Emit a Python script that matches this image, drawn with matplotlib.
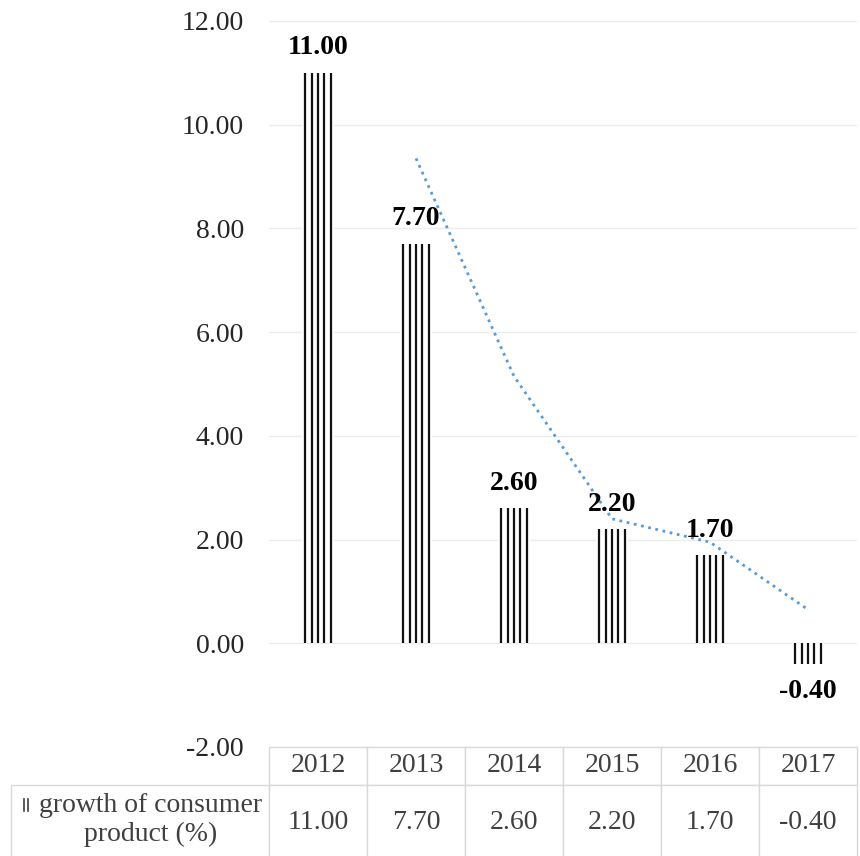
import numpy as np
import matplotlib
matplotlib.use('Agg')
import matplotlib.pyplot as plt
from matplotlib.table import Table

plt.rcParams['font.family'] = ['Liberation Serif', 'DejaVu Serif']

years = ['2012', '2013', '2014', '2015', '2016', '2017']
growth = [11.00, 7.70, 2.60, 2.20, 1.70, -0.40]
# 2-period moving average trend line (starts at 2013)
trend_years = ['2013', '2014', '2015', '2016', '2017']
trend_vals = [9.35, 5.15, 2.40, 1.95, 0.65]
row_label = 'growth of consumer\nproduct (%)'

W, H = 860, 856
fig = plt.figure(figsize=(W / 100, H / 100), dpi=100)
left, right, top, bottom = 269, 857, 21, 747
pw, ph = right - left, bottom - top
ax = fig.add_axes([left / W, 1 - bottom / H, pw / W, ph / H])

x = np.arange(len(years))
ax.set_xlim(-0.5, len(years) - 0.5)
ax.set_ylim(-2, 12)
ax.set_yticks(np.arange(-2, 13, 2))
ax.set_yticklabels([f'{v:.2f}' for v in np.arange(-2, 13, 2)], fontsize=20, color='#262626')
ax.tick_params(axis='y', length=0, pad=18)
ax.set_xticks([])
for s in ax.spines.values():
    s.set_visible(False)
ax.yaxis.grid(True, color='#ececec', linewidth=1)
ax.set_axisbelow(True)

# bars: white body with five vertical stripes
ax.bar(x, growth, width=0.32, color='white', zorder=2)
for off in np.linspace(-0.13, 0.13, 5):
    ax.vlines(x + off, 0, growth, color='#111111', linewidth=1.6, zorder=3)

# trend line
tx = [years.index(y) for y in trend_years]
ax.plot(tx, trend_vals, color='#5b9bd5', linestyle=':', linewidth=2.0, zorder=4)

# data labels
for xi, v in zip(x, growth):
    dy = 18 if v >= 0 else -20
    ax.annotate(f'{v:.2f}', (xi, v), xytext=(0, dy), textcoords='offset points',
                ha='center', va='center', fontsize=20, fontweight='bold', color='black', zorder=5)

# data table under the plot (sizes in axes fractions)
colw = 1 / len(years)
lab_w = (left - 11) / pw
hdr_h = (785 - 747) / ph
row_h = (860 - 785) / ph
tbl = Table(ax, bbox=[0, -(hdr_h + row_h), 1, hdr_h + row_h])
tbl.auto_set_font_size(False)
edge = '#d9d9d9'
for j, yr in enumerate(years):
    for r, (txt, hh) in enumerate([(yr, hdr_h), (f'{growth[j]:.2f}', row_h)]):
        c = tbl.add_cell(r, j, width=colw, height=hh, text=txt, loc='center', edgecolor=edge)
        c.get_text().set_fontsize(20)
        c.get_text().set_color('#404040')
tbl.add_cell(1, -1, width=lab_w, height=row_h, text='', edgecolor=edge)
ax.add_table(tbl)

# row label with legend key
lx = (151 - left) / pw
ax.text(lx, -(820 - bottom) / ph, row_label, transform=ax.transAxes, ha='center', va='center',
        fontsize=20, color='#404040', linespacing=1.2)
for px in (24, 28):
    ax.plot([(px - left) / pw] * 2, [-(799 - bottom) / ph, -(811 - bottom) / ph],
            transform=ax.transAxes, color='#404040', linewidth=1.2, clip_on=False)

fig.savefig('out.png', dpi=100)
